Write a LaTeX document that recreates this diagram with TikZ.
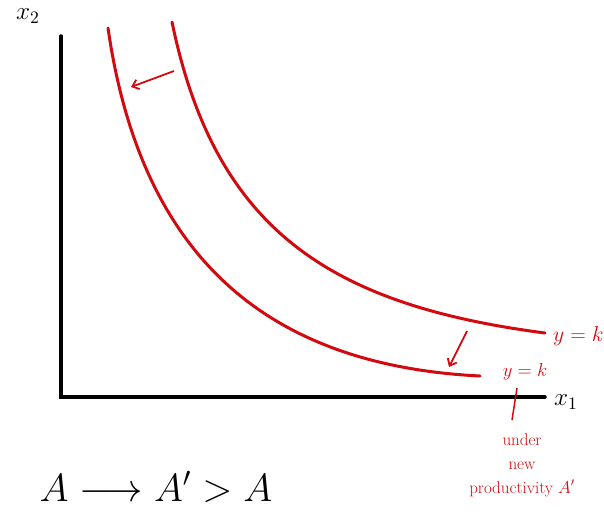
\documentclass[tikz,border=0pt]{standalone}
\usepackage{amsmath}
\usepackage{tikz}
\usetikzlibrary{arrows.meta}
\definecolor{pen}{RGB}{210,10,15}
\begin{document}
\begin{tikzpicture}[x=1pt,y=-1pt,
  axis/.style={line width=3.5pt,line cap=round},
  iso/.style={pen,line width=3pt,line cap=round},
  moveto/.style={pen,line width=1.8pt,-{Straight Barb[length=6pt,width=10pt]}},
  lbl/.style={pen,inner sep=1pt},
  axlbl/.style={inner sep=1pt}]
\useasboundingbox (0,0) rectangle (604,511);
\coordinate (o) at (61,397);
\coordinate (ytop) at (61,36);
\coordinate (xend) at (545,397);
\draw[axis] (ytop) -- (o) -- (xend);
\node[axlbl] (x2) at (28,16) {\scalebox{1.75}{\Large $x_2$}};
\node[axlbl] (x1) at (566,402) {\scalebox{1.75}{\Large $x_1$}};
% isoquants
\draw[iso] (172,22) .. controls (215,230) and (330,305) .. (545,333);
\draw[iso] (108,28) .. controls (140,250) and (260,365) .. (480,376);
\coordinate (a1) at (174,71);
\coordinate (b1) at (131,87);
\draw[moveto] (a1) -- (b1);
\coordinate (a2) at (467,331);
\coordinate (b2) at (449,367);
\draw[moveto] (a2) -- (b2);
\node[lbl,anchor=west] (kold) at (552,336) {\scalebox{1.25}{\LARGE $y=k$}};
\node[lbl] (knew) at (525,372) {\scalebox{1.3}{\Large $y=k$}};
\node[pen,font=\fontsize{17}{24}\selectfont,align=center] (note) at (522,465) {under\\new\\productivity $A'$};
\coordinate (t1) at (517,388);
\coordinate (t2) at (512,420);
\draw[pen,line width=1.5pt] (t1) -- (t2);
\node (eq) at (156,487) {\scalebox{1.9}{\huge $A \longrightarrow A' > A$}};
\end{tikzpicture}
\end{document}
